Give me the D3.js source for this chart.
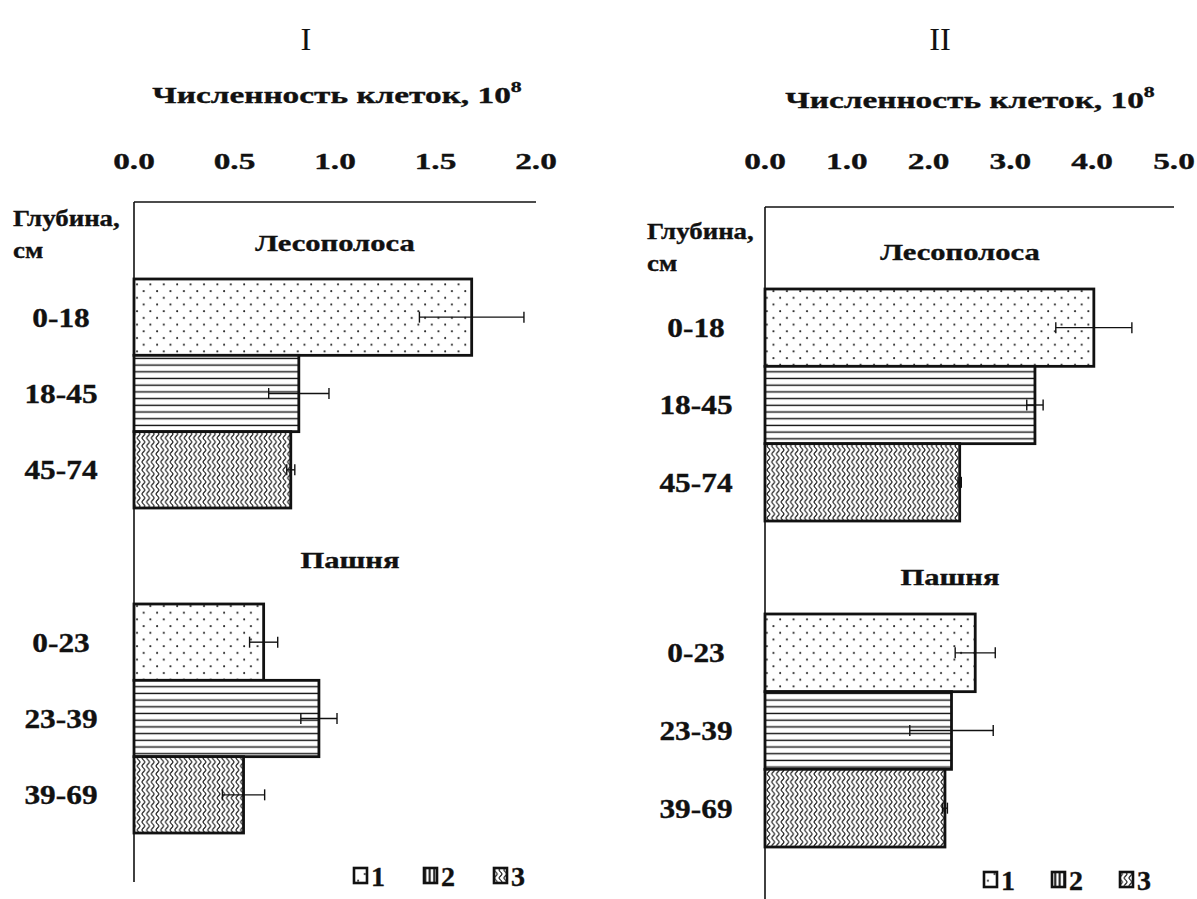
<!DOCTYPE html>
<html>
<head>
<meta charset="utf-8">
<script src="https://cdn.jsdelivr.net/npm/d3@7"></script>
<style>
  html, body { margin: 0; padding: 0; background: #fff; }
  svg { display: block; }
  text { font-family: "Liberation Serif", "Times New Roman", serif; fill: #111; }
  text.b { stroke: #111; stroke-width: 0.35; }
</style>
</head>
<body>
<svg id="chart" width="1197" height="899"></svg>
<script>
// Cell counts (10^8) by soil depth, forest belt vs. ploughland
const groups = ["Лесополоса", "Пашня"];
const depthsForest = ["0-18", "18-45", "45-74"];
const depthsField = ["0-23", "23-39", "39-69"];
const seriesNames = ["1", "2", "3"];

// Panel I
const ticksI = [0.0, 0.5, 1.0, 1.5, 2.0];
const forestI = [1.68, 0.82, 0.78];
const forestErrI = [0.26, 0.15, 0.02];
const fieldI = [0.645, 0.92, 0.545];
const fieldErrI = [0.07, 0.09, 0.105];

// Panel II
const ticksII = [0.0, 1.0, 2.0, 3.0, 4.0, 5.0];
const forestII = [4.02, 3.30, 2.38];
const forestErrII = [0.465, 0.10, 0.02];
const fieldII = [2.57, 2.28, 2.20];
const fieldErrII = [0.245, 0.51, 0.03];

const svg = d3.select("#chart");
const defs = svg.append("defs");

// Hatch fills: dotted, horizontal lines, vertical waves
const pDots = defs.append("pattern").attr("id", "p-dots")
  .attr("patternUnits", "userSpaceOnUse").attr("width", 13.4).attr("height", 13.4);
pDots.append("circle").attr("cx", 3).attr("cy", 3).attr("r", 1).attr("fill", "#222");
pDots.append("circle").attr("cx", 9.7).attr("cy", 9.7).attr("r", 1).attr("fill", "#222");

const pLines = defs.append("pattern").attr("id", "p-lines")
  .attr("patternUnits", "userSpaceOnUse").attr("width", 10).attr("height", 6.7);
pLines.append("rect").attr("width", 10).attr("height", 6.7).attr("fill", "#fff");
pLines.append("line").attr("x1", 0).attr("x2", 10).attr("y1", 3.3).attr("y2", 3.3)
  .attr("stroke", "#111").attr("stroke-width", 1.4);

const pWave = defs.append("pattern").attr("id", "p-wave")
  .attr("patternUnits", "userSpaceOnUse").attr("width", 4.7).attr("height", 8);
pWave.append("rect").attr("width", 4.7).attr("height", 8).attr("fill", "#fff");
pWave.append("path").attr("d", "M2.35,0 C4.3,2 4.3,2 2.35,4 C0.4,6 0.4,6 2.35,8")
  .attr("fill", "none").attr("stroke", "#111").attr("stroke-width", 1.1);

const pVert = defs.append("pattern").attr("id", "p-vert")
  .attr("patternUnits", "userSpaceOnUse").attr("width", 4.5).attr("height", 10);
pVert.append("rect").attr("width", 4.5).attr("height", 10).attr("fill", "#fff");
pVert.append("line").attr("x1", 2.2).attr("x2", 2.2).attr("y1", 0).attr("y2", 10)
  .attr("stroke", "#111").attr("stroke-width", 2);

const fills = ["url(#p-dots)", "url(#p-lines)", "url(#p-wave)"];
const legendFills = ["url(#p-dots)", "url(#p-vert)", "url(#p-wave)"];

// Horizontally stretched bold serif label
function label(g, txt, x, y, o) {
  const bold = (o.weight || "bold") === "bold";
  return g.append("text")
    .attr("class", bold ? "b" : null)
    .attr("transform", `translate(${x},${y}) scale(${o.sx || 1},1)`)
    .attr("text-anchor", o.anchor || "middle")
    .attr("dominant-baseline", "central")
    .attr("font-size", o.size)
    .attr("font-weight", o.weight || "bold")
    .text(txt);
}

function panel(cfg) {
  const g = svg.append("g");
  const x = d3.scaleLinear().domain([0, cfg.ticks[cfg.ticks.length - 1]])
    .range([cfg.x0, cfg.x1]);

  // Titles
  label(g, cfg.roman, cfg.romanX, 40, { size: 31, weight: "normal", sx: 1.05 });
  const ttl = label(g, "Численность клеток, 10", cfg.titleX, cfg.titleY, { size: 23, sx: 1.45 });
  ttl.append("tspan").attr("font-size", 15).attr("dy", -9).text("8");

  // Top value axis (labels only, the domain line drawn separately)
  cfg.ticks.forEach(v => label(g, v.toFixed(1), x(v), 161, { size: 23, sx: 1.45 }));

  g.append("line").attr("x1", cfg.x0).attr("x2", cfg.x1)
    .attr("y1", cfg.top).attr("y2", cfg.top)
    .attr("stroke", "#111").attr("stroke-width", 1.6);
  g.append("line").attr("x1", cfg.x0).attr("x2", cfg.x0)
    .attr("y1", cfg.top).attr("y2", cfg.bottom)
    .attr("stroke", "#111").attr("stroke-width", 1.6);

  // Depth header
  label(g, "Глубина,", cfg.depthX, cfg.top + cfg.hdrDy, { size: 24, sx: 1.12, anchor: "start" });
  label(g, "см", cfg.depthX, cfg.top + cfg.hdrDy + 32, { size: 24, sx: 1.12, anchor: "start" });

  const blocks = [
    { name: groups[0], depths: depthsForest, vals: cfg.forest, errs: cfg.forestErr,
      range: cfg.forestRange, labelPos: cfg.forestLabel },
    { name: groups[1], depths: depthsField, vals: cfg.field, errs: cfg.fieldErr,
      range: cfg.fieldRange, labelPos: cfg.fieldLabel }
  ];

  blocks.forEach(b => {
    const y = d3.scaleBand().domain(b.depths).range(b.range).padding(0);
    const rows = b.depths.map((d, i) => ({ d, v: b.vals[i], e: b.errs[i], i }));

    label(g, b.name, b.labelPos[0], b.labelPos[1], { size: 23, sx: 1.33 });

    g.selectAll(null).data(rows).join("rect")
      .attr("x", x(0)).attr("y", r => y(r.d))
      .attr("width", r => x(r.v) - x(0)).attr("height", y.bandwidth())
      .attr("fill", r => fills[r.i])
      .attr("stroke", "#111").attr("stroke-width", 2.8);

    rows.forEach(r => {
      label(g, r.d, cfg.catX, y(r.d) + y.bandwidth() / 2, { size: 28, sx: 1.12 });
      const cy = y(r.d) + y.bandwidth() / 2;
      const lo = x(r.v - r.e), hi = x(r.v + r.e);
      g.append("line").attr("x1", lo).attr("x2", hi).attr("y1", cy).attr("y2", cy)
        .attr("stroke", "#111").attr("stroke-width", 1.4);
      [lo, hi].forEach(px => g.append("line").attr("x1", px).attr("x2", px)
        .attr("y1", cy - 5.5).attr("y2", cy + 5.5)
        .attr("stroke", "#111").attr("stroke-width", 1.4));
    });
  });

  // Legend
  seriesNames.forEach((s, i) => {
    const lx = cfg.legX + i * cfg.legStep;
    g.append("rect").attr("x", lx).attr("y", cfg.legY - 8).attr("width", 13).attr("height", 15)
      .attr("fill", legendFills[i]).attr("stroke", "#111").attr("stroke-width", 2.6);
    label(g, s, lx + 17, cfg.legY, { size: 28, sx: 1.0, anchor: "start" });
  });
}

panel({
  roman: "I", romanX: 306, titleX: 337, titleY: 95,
  ticks: ticksI, x0: 134, x1: 536, top: 202, bottom: 882,
  depthX: 13, hdrDy: 16, catX: 61,
  forest: forestI, forestErr: forestErrI, forestRange: [279, 508], forestLabel: [335, 243],
  field: fieldI, fieldErr: fieldErrI, fieldRange: [604, 833], fieldLabel: [350, 560],
  legX: 354, legStep: 70, legY: 876
});

panel({
  roman: "II", romanX: 940, titleX: 970, titleY: 100,
  ticks: ticksII, x0: 765, x1: 1174, top: 207, bottom: 899,
  depthX: 647, hdrDy: 24, catX: 696,
  forest: forestII, forestErr: forestErrII, forestRange: [289, 521], forestLabel: [960, 252],
  field: fieldII, fieldErr: fieldErrII, fieldRange: [614, 847], fieldLabel: [950, 577],
  legX: 984, legStep: 68, legY: 880
});
</script>
</body>
</html>
